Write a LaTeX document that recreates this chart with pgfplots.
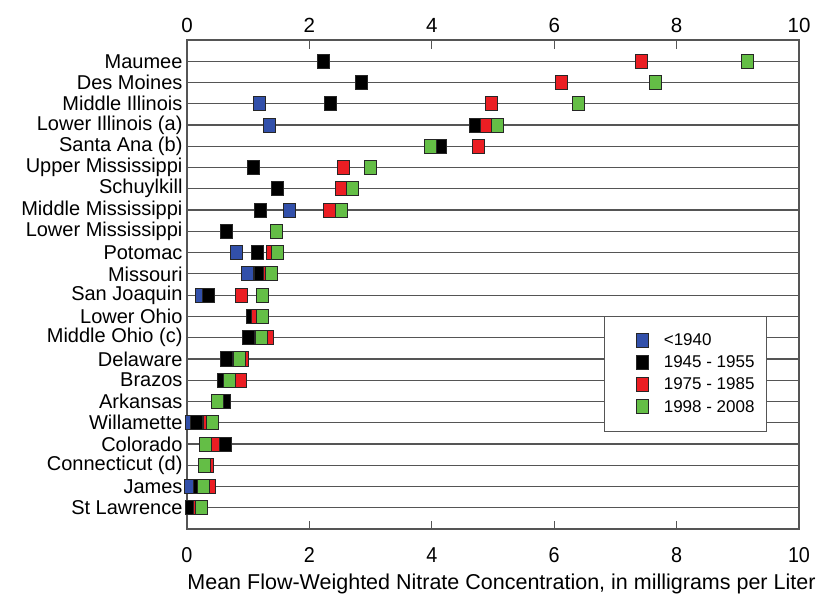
\documentclass[border=0pt]{standalone}
\usepackage{fontspec}
\setmainfont{Liberation Sans}
\newfontfamily\condfont[FakeStretch=0.92]{Liberation Sans}
\usepackage{pgfplots}
\pgfplotsset{compat=1.18}
\definecolor{cblue}{RGB}{50,80,170}
\definecolor{cred}{RGB}{235,30,35}
\definecolor{cgreen}{RGB}{100,190,70}
\definecolor{frame}{RGB}{85,85,85}
\pgfplotsset{
  base/.style={
    scale only axis, width=612pt, height=489pt,
    xmin=0, xmax=10, ymin=0, ymax=23, y dir=reverse,
    xtick={0,2,4,6,8,10},
    /pgf/number format/assume math mode=true,
  },
  legend image code/.code={%
    \path[#1] plot[only marks] coordinates {(0.3cm,0cm)};
    \path (-19pt,0pt) (0.6cm,0pt);},
}
\begin{document}
\begin{tikzpicture}
\begin{axis}[
  base,
  clip=false,
  axis line style={frame, line width=1.3pt},
  x tick style={frame, line width=1.3pt},
  tick align=inside, major tick length=8.5pt,
  xtick pos=both,
  xticklabel pos=lower,
  xticklabel style={font=\condfont\fontsize{21.5}{24}\selectfont, yshift=-15pt},
  ytick={1,2,3,4,5,6,7,8,9,10,11,12,13,14,15,16,17,18,19,20,21,22},
  yticklabels={Maumee,Des Moines,Middle Illinois,Lower Illinois (a),Santa Ana (b),Upper Mississippi,Schuylkill,Middle Mississippi,Lower Mississippi,Potomac,Missouri,San Joaquin,Lower Ohio,Middle Ohio (c),Delaware,Brazos,Arkansas,Willamette,Colorado,Connecticut (d),James,St Lawrence},
  yticklabel style={font=\fontsize{20}{22}\selectfont, xshift=-1pt},
  y tick style={draw=none},
  ymajorgrids,
  grid style={frame, line width=1.2pt},
  xlabel={Mean Flow-Weighted Nitrate Concentration, in milligrams per Liter},
  xlabel style={font=\fontsize{21.5}{24}\selectfont, xshift=8.5pt, yshift=-4pt},
  legend style={at={(axis cs:6.81,12.98)}, anchor=north west,
     draw=frame, line width=1pt, inner xsep=10pt, inner ysep=15.5pt,
     font=\fontsize{17}{20}\selectfont,
     nodes={inner sep=2pt}, column sep=10.5pt, row sep=4.7pt},
  legend cell align=left,
]
\addplot[only marks, mark=square*, mark size=6pt, mark options={yscale=1.17, draw=black!85, line width=0.8pt, fill=cblue}] coordinates {(1.18,3) (1.34,4) (1.67,8) (0.81,10) (0.98,11) (0.23,12) (0.08,18) (0.05,21)};
\addlegendentry{<1940}
\addplot[only marks, mark=square*, mark size=6pt, mark options={yscale=1.17, draw=black!85, line width=0.8pt, fill=black}] coordinates {(2.23,1) (2.85,2) (2.35,3) (4.72,4) (4.14,5) (1.09,6) (1.48,7) (1.20,8) (0.65,9) (1.15,10) (1.20,11) (0.35,12) (1.07,13) (1.00,14) (0.65,15) (0.60,16) (0.61,17) (0.15,18) (0.63,19) (0.34,20) (0.21,21) (0.08,22)};
\addlegendentry{1945 - 1955}
\addplot[only marks, mark=square*, mark size=6pt, mark options={yscale=1.17, draw=black!85, line width=0.8pt, fill=cred}] coordinates {(7.42,1) (6.11,2) (4.98,3) (4.90,4) (4.76,5) (2.55,6) (2.53,7) (2.32,8) (1.40,10) (1.35,11) (0.89,12) (1.15,13) (1.31,14) (0.90,15) (0.87,16) (0.37,18) (0.43,19) (0.33,20) (0.37,21) (0.21,22)};
\addlegendentry{1975 - 1985}
\addplot[only marks, mark=square*, mark size=6pt, mark options={yscale=1.17, draw=black!85, line width=0.8pt, fill=cgreen}] coordinates {(9.16,1) (7.66,2) (6.40,3) (5.08,4) (3.97,5) (3.00,6) (2.71,7) (2.52,8) (1.46,9) (1.47,10) (1.38,11) (1.24,12) (1.23,13) (1.21,14) (0.86,15) (0.70,16) (0.50,17) (0.41,18) (0.30,19) (0.28,20) (0.27,21) (0.24,22)};
\addlegendentry{1998 - 2008}
\coordinate (sw) at (axis cs:0,23);
\end{axis}
\begin{axis}[
  base,
  axis x line*=top, hide y axis,
  axis line style={draw=none}, x tick style={draw=none},
  xticklabel pos=upper,
  xticklabel style={font=\fontsize{20.5}{23}\selectfont, yshift=4pt},
]
\addplot[draw=none] coordinates {(0,1)};
\end{axis}
\pgfresetboundingbox
\path (sw) ++(-187pt,-70pt) rectangle ++(828pt,599pt);
\end{tikzpicture}
\end{document}
